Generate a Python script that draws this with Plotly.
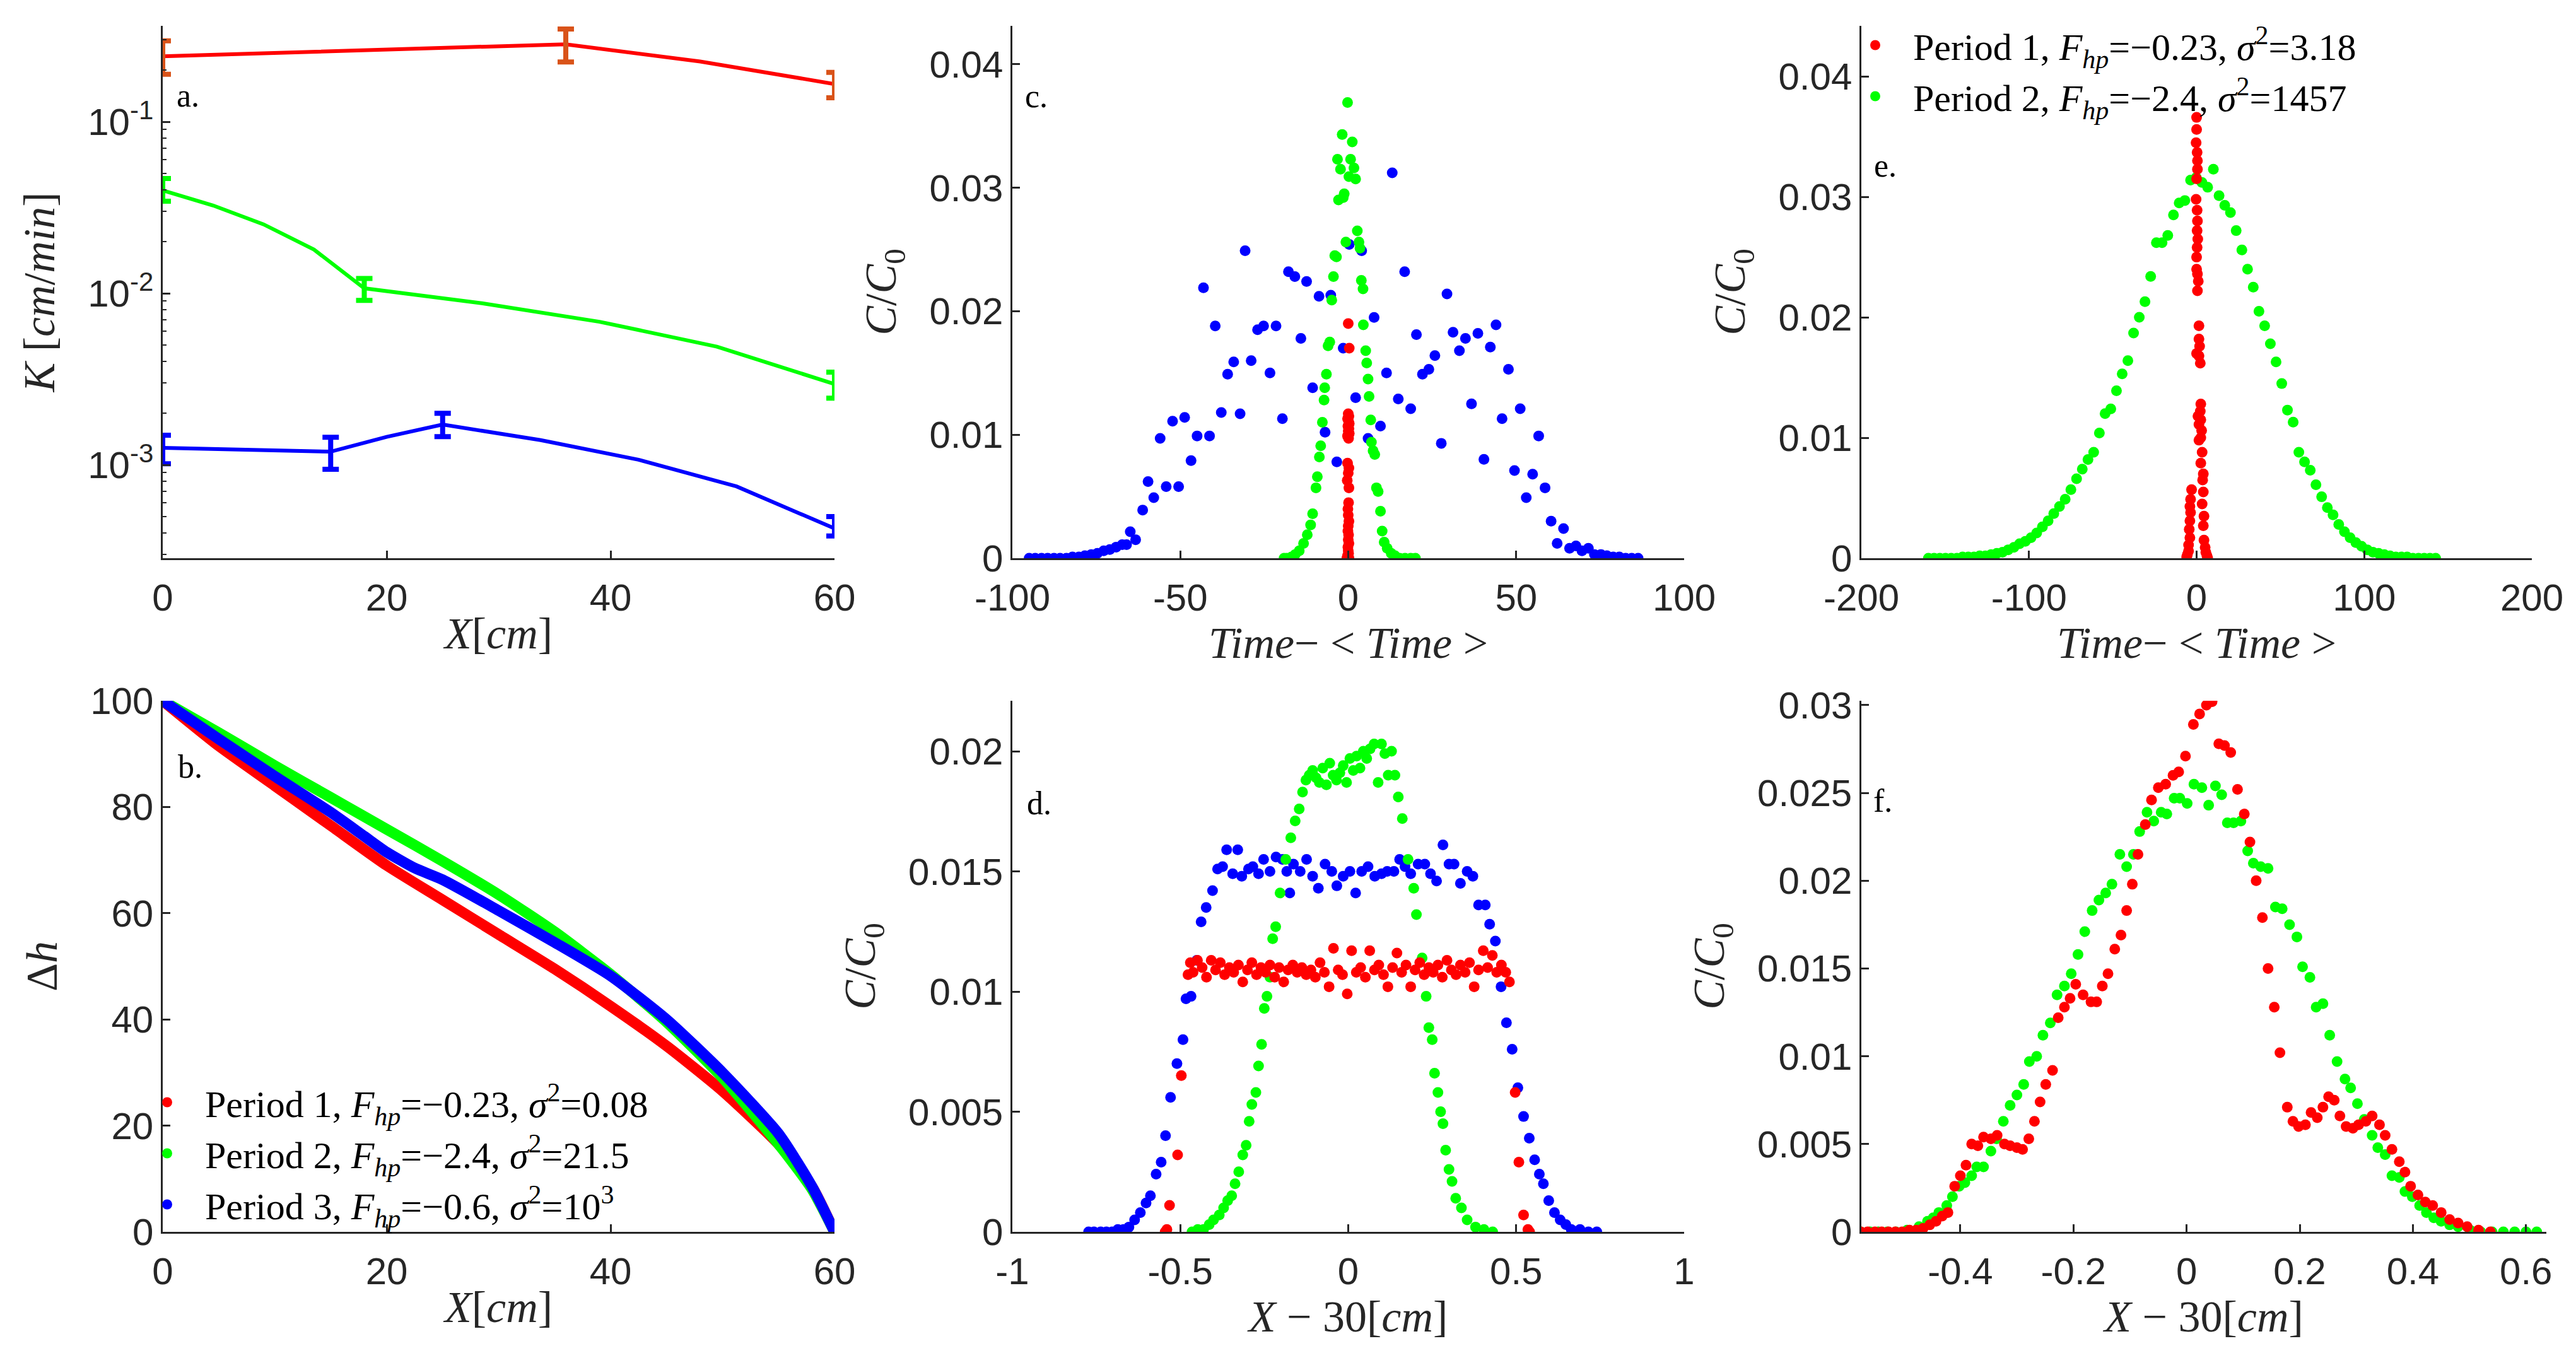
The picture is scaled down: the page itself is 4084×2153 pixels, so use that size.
"""Six-panel column experiment figure: K profiles, head profiles and tracer curves."""

import plotly.graph_objects as go

RED = "#ff0000"
GREEN = "#00ff00"
BLUE = "#0000ff"
ORANGE = "#d95319"
INK = "#262626"
SANS = "Liberation Sans"
SERIF = "Liberation Serif"

# ---------------- panel a: K along the column (log axis) ----------------
a_red_x = [0, 36, 60]
a_red_k = [0.241, 0.283, 0.166]
a_red_hi = [0.296, 0.347, 0.194]
a_red_lo = [0.189, 0.223, 0.138]
a_red_line_x = [0, 12, 24, 36, 48, 60]
a_red_line_k = [0.241, 0.255, 0.269, 0.283, 0.2245, 0.166]

a_green_x = [0, 18, 60]
a_green_k = [0.0398, 0.0107, 0.00296]
a_green_hi = [0.0467, 0.0122, 0.00347]
a_green_lo = [0.0344, 0.0091, 0.00245]
a_green_line_x = [0, 4.5, 9, 13.5, 18, 28.5, 39, 49.5, 60]
a_green_line_k = [0.0398, 0.0325, 0.02525, 0.0180, 0.0107, 0.00876, 0.00683, 0.00489, 0.00296]

a_blue_x = [0, 15, 25, 60]
a_blue_k = [0.001256, 0.001194, 0.001718, 0.000426]
a_blue_hi = [0.00149, 0.00145, 0.0020, 0.0005]
a_blue_lo = [0.001016, 0.000942, 0.00146, 0.000385]
a_blue_line_x = [0, 7.5, 15, 20, 25, 33.75, 42.5, 51.25, 60]
a_blue_line_k = [0.001256, 0.001225, 0.001194, 0.001456, 0.001718, 0.001395, 0.001072, 0.000749, 0.000426]

# ---------------- panel b: head drop along the column ----------------
b_red_x = [0, 5, 10, 15, 20, 25, 30, 35, 40, 45, 50, 55, 58, 60]
b_red_h = [100, 91.5, 84, 76.5, 69, 62.5, 56, 49.5, 42.5, 35, 26.5, 16.5, 8.5, 0]
b_green_x = [0, 5, 10, 15, 20, 25, 30, 35, 40, 45, 50, 55, 58, 60]
b_green_h = [100, 94, 87.8, 81.8, 75.8, 69.8, 63.5, 56.5, 48.5, 39.5, 29, 16.5, 8, 0]
b_blue_x = [0, 5, 10, 15, 18, 20, 22.5, 25, 30, 35, 40, 45, 50, 55, 58, 60]
b_blue_h = [100, 92.8, 85.8, 79, 74.5, 71.5, 68.5, 66.3, 60.5, 54.5, 48.2, 40, 30, 18.5, 8.5, 0]

# ---------------- panel c: breakthrough vs. centred time ----------------
c_red_t = [0.0, 0.3, 0.0, 0.2, -0.2, 0.1, 0.3, -0.1, 0.2, 0.0, 0.3, -0.2, 0.1, -0.2, 0.2, 0.0,
           -0.3, 0.2, 0.1, -0.1, 0.0, 0.2, 0.0, -0.1, 0.1, 0.0, 0.2, -0.1, 0.0, 0.1, -0.2, 0.0, 0.2, -0.4]
c_red_c = [0.0190, 0.0170, 0.0117, 0.0115, 0.0113, 0.0111, 0.0109, 0.0107, 0.0105, 0.0103, 0.0101,
           0.0099, 0.0097, 0.0077, 0.0073, 0.0069, 0.0063, 0.0057, 0.0045, 0.0040, 0.0035, 0.0030,
           0.0026, 0.0022, 0.0019, 0.0015, 0.0012, 0.0009, 0.0006, 0.0004, 0.0002, 0.0001, 0.0, 0.0]
c_green_t = [-19.1, -18.3, -16.9, -15.8, -14.6, -13.3, -12.2, -11.2, -10.6, -9.6, -9.2, -8.6, -8.2,
             -7.7, -7.2, -7.0, -6.5, -6.0, -5.5, -4.9, -4.4, -4.0, -3.5, -3.2, -2.9, -2.3, -1.8,
             -1.5, -1.2, -0.7, -0.2, 0.2, 0.7, 1.2, 1.7, 2.2, 2.7, 3.2, 3.5, 3.9, 4.4, 4.5, 5.2,
             5.5, 5.9, 6.2, 6.7, 6.9, 7.4, 7.9, 8.4, 8.9, 9.6, 10.1, 10.7, 11.6, 12.8, 13.9, 15.3,
             16.9, 18.6, 20.0]
c_green_c = [0.0, 0.0, 0.0001, 0.0003, 0.0006, 0.0012, 0.0019, 0.0027, 0.0036, 0.0057, 0.0066,
             0.0082, 0.0091, 0.0110, 0.0128, 0.0138, 0.0149, 0.0172, 0.0175, 0.0209, 0.0228, 0.0245,
             0.0244, 0.0323, 0.0290, 0.0315, 0.0343, 0.0292, 0.0295, 0.0256, 0.0369, 0.0309, 0.0323,
             0.0337, 0.0316, 0.0307, 0.0265, 0.0256, 0.0251, 0.0225, 0.0218, 0.0189, 0.0168, 0.0158,
             0.0145, 0.0131, 0.0112, 0.0094, 0.0087, 0.0084, 0.0057, 0.0054, 0.0038, 0.0022, 0.0013,
             0.0008, 0.0004, 0.0002, 0.0, 0.0, 0.0, 0.0]
c_blue_t = [-95.0, -93.2, -91.3, -89.5, -87.6, -85.8, -83.9, -82.1, -80.2, -78.4, -76.5, -74.7,
            -72.8, -71.0, -69.1, -67.3, -66.0, -64.9, -63.3, -61.2, -59.6, -57.9, -56.0, -54.2,
            -52.3, -50.5, -48.7, -46.8, -45.0, -43.1, -41.3, -39.6, -37.8, -35.9, -34.1, -32.2,
            -30.7, -28.9, -27.0, -25.2, -23.3, -21.5, -19.6, -17.8, -15.9, -14.1, -12.4, -10.6,
            -8.7, -6.9, -5.2, -3.4, -1.5, 0.3, 2.2, 4.0, 5.9, 7.7, 9.6, 11.4, 13.1, 14.9, 16.8,
            18.6, 20.3, 22.1, 24.0, 25.8, 27.7, 29.4, 31.2, 33.1, 34.9, 36.7, 38.6, 40.4, 42.3,
            44.0, 45.8, 47.7, 49.5, 51.2, 53.0, 54.9, 56.7, 58.6, 60.4, 62.2, 64.1, 65.9, 67.8,
            69.6, 71.5, 73.3, 75.2, 77.0, 78.9, 80.7, 82.6, 84.4, 86.3]
c_blue_c = [0.0, 0.0, 0.0, 0.0, 0.0, 0.0, 0.0, 0.0001, 0.0001, 0.0002, 0.0003, 0.0004, 0.0006,
            0.0007, 0.0009, 0.0011, 0.0011, 0.00215, 0.0015, 0.0039, 0.0062, 0.0049, 0.0097,
            0.0058, 0.0111, 0.0058, 0.0114, 0.0079, 0.0099, 0.0219, 0.0099, 0.0188, 0.0118,
            0.0149, 0.0159, 0.0117, 0.0249, 0.0160, 0.0185, 0.0188, 0.0150, 0.0188, 0.0113,
            0.0232, 0.0228, 0.0178, 0.0224, 0.0138, 0.0212, 0.0102, 0.0213, 0.0078, 0.0170,
            0.0254, 0.0130, 0.0249, 0.0097, 0.0195, 0.0107, 0.0150, 0.0312, 0.0129, 0.0232,
            0.0121, 0.0181, 0.0149, 0.0153, 0.0164, 0.0093, 0.0214, 0.0183, 0.0168, 0.0178,
            0.0125, 0.0182, 0.0080, 0.0171, 0.0189, 0.0113, 0.0153, 0.0071, 0.0121, 0.0049,
            0.0068, 0.0099, 0.0057, 0.0030, 0.0012, 0.0024, 0.0008, 0.0010, 0.0006, 0.0008,
            0.0003, 0.0003, 0.0002, 0.0001, 0.0001, 0.0, 0.0, 0.0]

# ---------------- panel d: concentration profile vs. position ----------------
d_red_x = [-0.545, -0.540, -0.532, -0.508, -0.497, -0.477, -0.470, -0.462, -0.449, -0.435, -0.422,
           -0.408, -0.395, -0.381, -0.368, -0.354, -0.341, -0.327, -0.314, -0.300, -0.287, -0.273,
           -0.260, -0.246, -0.233, -0.219, -0.206, -0.192, -0.179, -0.165, -0.152, -0.138, -0.125,
           -0.111, -0.098, -0.084, -0.071, -0.057, -0.044, -0.030, -0.017, -0.003, 0.010, 0.024,
           0.037, 0.051, 0.064, 0.078, 0.091, 0.105, 0.118, 0.132, 0.145, 0.159, 0.172, 0.186,
           0.199, 0.213, 0.226, 0.240, 0.253, 0.267, 0.280, 0.294, 0.307, 0.321, 0.334, 0.348,
           0.361, 0.375, 0.388, 0.402, 0.415, 0.429, 0.442, 0.456, 0.469, 0.480, 0.497, 0.508,
           0.522, 0.535, 0.540]
d_red_c = [0.0, 0.0001, 0.0011, 0.0032, 0.0065, 0.0107, 0.0112, 0.0108, 0.0113, 0.0110, 0.0106,
           0.0113, 0.0109, 0.0112, 0.0107, 0.0110, 0.0108, 0.0111, 0.0104, 0.0109, 0.0112, 0.0107,
           0.0110, 0.0108, 0.0111, 0.0106, 0.0110, 0.0104, 0.0109, 0.0111, 0.0108, 0.0110, 0.0107,
           0.0109, 0.0106, 0.0112, 0.0108, 0.0102, 0.0118, 0.0109, 0.0107, 0.0099, 0.0117, 0.0108,
           0.0110, 0.0106, 0.0117, 0.0109, 0.0111, 0.0107, 0.0102, 0.0110, 0.0116, 0.0108, 0.0111,
           0.0102, 0.0109, 0.0112, 0.0107, 0.0110, 0.0108, 0.0111, 0.0106, 0.0113, 0.0109, 0.0107,
           0.0111, 0.0108, 0.0112, 0.0102, 0.0109, 0.0117, 0.0110, 0.0115, 0.0108, 0.0111, 0.0108,
           0.0104, 0.0058, 0.0029, 0.0007, 0.0001, 0.0]
d_green_x = [-0.465, -0.448, -0.431, -0.414, -0.401, -0.384, -0.371, -0.359, -0.347, -0.337, -0.326,
             -0.314, -0.304, -0.295, -0.287, -0.275, -0.267, -0.258, -0.250, -0.242, -0.233, -0.225,
             -0.216, -0.203, -0.186, -0.171, -0.158, -0.146, -0.136, -0.126, -0.116, -0.106, -0.096,
             -0.086, -0.076, -0.065, -0.055, -0.045, -0.035, -0.025, -0.015, -0.005, 0.005, 0.015,
             0.025, 0.035, 0.045, 0.055, 0.065, 0.077, 0.089, 0.099, 0.109, 0.119, 0.129, 0.139,
             0.149, 0.161, 0.178, 0.195, 0.203, 0.220, 0.232, 0.240, 0.250, 0.257, 0.267, 0.275,
             0.282, 0.290, 0.300, 0.309, 0.320, 0.337, 0.354, 0.379, 0.404, 0.430]
d_green_c = [0.0, 0.0001, 0.0001, 0.0003, 0.0005, 0.0007, 0.0010, 0.0013, 0.0015, 0.0020, 0.0025,
             0.0032, 0.0036, 0.0046, 0.0053, 0.0058, 0.0069, 0.0078, 0.0093, 0.0098, 0.0106, 0.0122,
             0.0127, 0.0141, 0.0155, 0.0164, 0.0171, 0.0176, 0.0183, 0.0188, 0.0190, 0.0192, 0.0189,
             0.0187, 0.0193, 0.0186, 0.0195, 0.0190, 0.0188, 0.0191, 0.0194, 0.0187, 0.0197, 0.0192,
             0.0198, 0.0193, 0.0200, 0.0197, 0.0201, 0.0203, 0.0187, 0.0203, 0.0199, 0.0190, 0.0200,
             0.0190, 0.0181, 0.0172, 0.0155, 0.0143, 0.0132, 0.0114, 0.0098, 0.0085, 0.0080, 0.0066,
             0.0058, 0.0050, 0.0045, 0.0034, 0.0026, 0.0021, 0.0014, 0.0010, 0.0005, 0.0002, 0.0001,
             0.0]
d_blue_x = [-0.773, -0.757, -0.737, -0.720, -0.703, -0.686, -0.669, -0.653, -0.636, -0.619, -0.602,
            -0.589, -0.572, -0.557, -0.544, -0.529, -0.510, -0.492, -0.483, -0.468, -0.451, -0.438,
            -0.423, -0.404, -0.389, -0.374, -0.362, -0.344, -0.329, -0.317, -0.297, -0.284, -0.267,
            -0.252, -0.233, -0.215, -0.196, -0.183, -0.174, -0.163, -0.143, -0.124, -0.106, -0.089,
            -0.069, -0.049, -0.034, -0.015, 0.005, 0.022, 0.040, 0.059, 0.079, 0.099, 0.116, 0.136,
            0.153, 0.169, 0.186, 0.208, 0.228, 0.245, 0.263, 0.282, 0.300, 0.315, 0.334, 0.354,
            0.371, 0.388, 0.408, 0.421, 0.438, 0.455, 0.471, 0.488, 0.505, 0.522, 0.539, 0.555,
            0.569, 0.581, 0.597, 0.614, 0.631, 0.648, 0.664, 0.690, 0.715, 0.740]
d_blue_c = [0.0, 0.0, 0.0, 0.0, 0.0, 0.0001, 0.0001, 0.0002, 0.0005, 0.0008, 0.0012, 0.0015,
            0.0024, 0.0029, 0.0040, 0.0056, 0.0070, 0.0080, 0.0097, 0.0098, 0.0113, 0.0129, 0.0135,
            0.0142, 0.0151, 0.0152, 0.0159, 0.0149, 0.0159, 0.0148, 0.0151, 0.0152, 0.0149, 0.0155,
            0.0150, 0.0156, 0.0155, 0.0150, 0.0141, 0.0153, 0.0150, 0.0155, 0.0148, 0.0143, 0.0153,
            0.0150, 0.0144, 0.0148, 0.0150, 0.0141, 0.0150, 0.0152, 0.0148, 0.0149, 0.0150, 0.0150,
            0.0155, 0.0152, 0.0149, 0.0153, 0.0153, 0.0149, 0.0146, 0.0161, 0.0153, 0.0153, 0.0145,
            0.0150, 0.0148, 0.0136, 0.0136, 0.0128, 0.0121, 0.0102, 0.0087, 0.0076, 0.0060, 0.0048,
            0.0039, 0.0030, 0.0024, 0.0020, 0.0013, 0.0008, 0.0005, 0.0003, 0.0001, 0.0001, 0.0, 0.0]

# ---------------- panel e: breakthrough vs. centred time ----------------
e_red_t = [0.0, 0.0, -0.3, 0.3, 0.5, 0.5, 0.0, -0.3, 0.3, 0.5, 0.3, 0.7, 0.3, 0.0, 0.0, 0.5, 1.0,
           0.5, 1.4, 1.4, 1.8, 0.0, 1.4, 2.2, 2.5, 2.2, 0.8, 2.5, 1.4, 3.0, 2.5, 1.4, 3.3, 2.5, 4.0,
           3.6, -3.0, 4.0, -3.6, 3.3, -4.0, -3.6, 4.4, -4.0, 4.0, -4.4, -4.0, 4.4, -4.8, 5.1, -4.8,
           5.5, -5.5, 6.2, -5.9, 6.6]
e_red_c = [0.0366, 0.0356, 0.0345, 0.0337, 0.0330, 0.0323, 0.0315, 0.0298, 0.0289, 0.0280, 0.0272,
           0.0265, 0.0258, 0.0250, 0.0240, 0.0236, 0.0230, 0.0222, 0.0193, 0.0182, 0.0176, 0.0170,
           0.0168, 0.0162, 0.0128, 0.0122, 0.0118, 0.0115, 0.0111, 0.0106, 0.0100, 0.0098, 0.0088,
           0.0079, 0.0070, 0.0065, 0.0057, 0.0055, 0.0049, 0.0045, 0.0043, 0.0038, 0.0035, 0.0031,
           0.0027, 0.0024, 0.0017, 0.0015, 0.0011, 0.0009, 0.0006, 0.0005, 0.0003, 0.0002, 0.0001,
           0.0]
e_green_t = [-160.0, -156.6, -153.2, -149.8, -146.4, -143.0, -139.6, -136.2, -132.8, -129.4, -126.0,
             -122.6, -119.2, -115.8, -112.4, -109.0, -105.6, -102.2, -98.8, -95.4, -92.0, -88.6,
             -85.2, -81.8, -78.4, -75.0, -71.6, -68.2, -64.8, -61.4, -58.0, -54.6, -51.2, -47.8,
             -44.4, -41.0, -37.6, -34.2, -30.8, -27.4, -24.0, -20.6, -17.2, -13.8, -10.4, -7.0, -3.6,
             -0.2, 3.2, 6.6, 10.0, 13.4, 16.8, 20.2, 23.6, 27.0, 30.4, 33.8, 37.2, 40.6, 44.0, 47.4,
             50.8, 54.2, 57.6, 61.0, 64.4, 67.8, 71.2, 74.6, 78.0, 81.4, 84.8, 88.2, 91.6, 95.0,
             98.4, 101.8, 105.2, 108.6, 112.0, 115.4, 118.8, 122.2, 125.6, 129.0, 132.4, 135.8,
             139.2, 142.6]
e_green_c = [0.0, 0.0, 0.0, 0.0, 0.0, 0.0, 0.0001, 0.0001, 0.0001, 0.0002, 0.0002, 0.0003, 0.0004,
             0.0005, 0.0007, 0.0009, 0.0012, 0.0014, 0.0017, 0.0021, 0.0026, 0.0031, 0.0037, 0.0043,
             0.0049, 0.0057, 0.0066, 0.0074, 0.0082, 0.0088, 0.0104, 0.0120, 0.0124, 0.0139, 0.0153,
             0.0164, 0.0187, 0.0200, 0.0213, 0.0234, 0.0262, 0.0262, 0.0268, 0.0285, 0.0295, 0.0297,
             0.0314, 0.0316, 0.0312, 0.0308, 0.0323, 0.0301, 0.0293, 0.0287, 0.0272, 0.0256, 0.0240,
             0.0225, 0.0205, 0.0193, 0.0178, 0.0163, 0.0145, 0.0123, 0.0113, 0.0088, 0.0080, 0.0073,
             0.0061, 0.0051, 0.0042, 0.0036, 0.0028, 0.0022, 0.0017, 0.0013, 0.0010, 0.0007, 0.0005,
             0.0004, 0.0003, 0.0002, 0.0001, 0.0001, 0.0001, 0.0, 0.0, 0.0, 0.0, 0.0]

# ---------------- panel f: concentration profile vs. position ----------------
f_red_x = [-0.576, -0.564, -0.551, -0.539, -0.527, -0.515, -0.503, -0.490, -0.478, -0.466, -0.454,
           -0.443, -0.432, -0.422, -0.410, -0.400, -0.390, -0.380, -0.369, -0.359, -0.346, -0.335,
           -0.322, -0.312, -0.300, -0.290, -0.279, -0.269, -0.259, -0.249, -0.237, -0.227, -0.216,
           -0.206, -0.196, -0.183, -0.169, -0.159, -0.149, -0.139, -0.127, -0.116, -0.106, -0.096,
           -0.086, -0.073, -0.062, -0.050, -0.037, -0.024, -0.014, -0.002, 0.012, 0.023, 0.035,
           0.045, 0.057, 0.067, 0.078, 0.090, 0.102, 0.112, 0.123, 0.134, 0.144, 0.155, 0.165,
           0.178, 0.188, 0.198, 0.210, 0.220, 0.231, 0.241, 0.251, 0.261, 0.271, 0.282, 0.294,
           0.304, 0.317, 0.328, 0.341, 0.351, 0.363, 0.376, 0.386, 0.396, 0.409, 0.422, 0.435,
           0.450, 0.465, 0.480, 0.496, 0.516, 0.537]
f_red_c = [0.0, 0.0, 0.0, 0.0, 0.0, 0.0, 0.0, 0.0001, 0.0001, 0.0002, 0.0004, 0.0006, 0.0009,
           0.0011, 0.0026, 0.0032, 0.0038, 0.0050, 0.0049, 0.0054, 0.0053, 0.0055, 0.0050, 0.0049,
           0.0048, 0.0047, 0.0053, 0.0063, 0.0074, 0.0084, 0.0092, 0.0122, 0.0128, 0.0133, 0.0141,
           0.0135, 0.0131, 0.0131, 0.0140, 0.0147, 0.0161, 0.0169, 0.0183, 0.0198, 0.0215, 0.0232,
           0.0246, 0.0253, 0.0255, 0.0260, 0.0262, 0.0271, 0.0289, 0.0295, 0.0300, 0.0302, 0.0278,
           0.0277, 0.0273, 0.0252, 0.0238, 0.0222, 0.0200, 0.0179, 0.0150, 0.0128, 0.0102, 0.0071,
           0.0063, 0.0060, 0.0061, 0.0068, 0.0065, 0.0071, 0.0077, 0.0075, 0.0066, 0.0060, 0.0059,
           0.0061, 0.0063, 0.0066, 0.0061, 0.0055, 0.0047, 0.0040, 0.0034, 0.0026, 0.0021, 0.0017,
           0.0015, 0.0011, 0.0007, 0.0005, 0.0003, 0.0001, 0.0]
f_green_x = [-0.576, -0.560, -0.545, -0.529, -0.514, -0.494, -0.473, -0.458, -0.448, -0.438, -0.424,
             -0.414, -0.402, -0.392, -0.380, -0.371, -0.359, -0.346, -0.336, -0.324, -0.312, -0.300,
             -0.288, -0.278, -0.265, -0.254, -0.241, -0.229, -0.216, -0.204, -0.192, -0.180, -0.167,
             -0.155, -0.143, -0.132, -0.118, -0.106, -0.094, -0.083, -0.070, -0.058, -0.045, -0.035,
             -0.022, -0.012, 0.001, 0.013, 0.027, 0.039, 0.051, 0.062, 0.072, 0.083, 0.096, 0.108,
             0.118, 0.131, 0.144, 0.157, 0.169, 0.182, 0.195, 0.205, 0.218, 0.229, 0.241, 0.253,
             0.266, 0.280, 0.290, 0.302, 0.314, 0.328, 0.338, 0.351, 0.363, 0.376, 0.386, 0.399,
             0.412, 0.424, 0.437, 0.450, 0.465, 0.480, 0.501, 0.520, 0.540, 0.560, 0.580, 0.600,
             0.619]
f_green_c = [0.0, 0.0, 0.0, 0.0, 0.0, 0.0001, 0.0003, 0.0006, 0.0008, 0.0011, 0.0015, 0.0020,
             0.0026, 0.0028, 0.0032, 0.0037, 0.0037, 0.0046, 0.0053, 0.0063, 0.0072, 0.0078, 0.0084,
             0.0097, 0.0100, 0.0112, 0.0119, 0.0135, 0.0140, 0.0147, 0.0158, 0.0171, 0.0183, 0.0189,
             0.0193, 0.0198, 0.0215, 0.0208, 0.0215, 0.0228, 0.0239, 0.0234, 0.0239, 0.0238, 0.0247,
             0.0247, 0.0244, 0.0255, 0.0253, 0.0243, 0.0254, 0.0249, 0.0233, 0.0233, 0.0234, 0.0217,
             0.0210, 0.0208, 0.0207, 0.0185, 0.0184, 0.0175, 0.0168, 0.0151, 0.0145, 0.0128, 0.0130,
             0.0112, 0.0097, 0.0087, 0.0082, 0.0073, 0.0064, 0.0055, 0.0048, 0.0044, 0.0032, 0.0031,
             0.0023, 0.0020, 0.0015, 0.0011, 0.0008, 0.0006, 0.0004, 0.0003, 0.0001, 0.0, 0.0, 0.0,
             0.0, 0.0, 0.0]

# legend texts
b_labels = [
    "Period 1, <i>F<sub>hp</sub></i>=\u22120.23, <i>\u03c3</i><sup>2</sup>=0.08",
    "Period 2, <i>F<sub>hp</sub></i>=\u22122.4, <i>\u03c3</i><sup>2</sup>=21.5",
    "Period 3, <i>F<sub>hp</sub></i>=\u22120.6, <i>\u03c3</i><sup>2</sup>=10<sup>3</sup>",
]
e_labels = [
    "Period 1, <i>F<sub>hp</sub></i>=\u22120.23, <i>\u03c3</i><sup>2</sup>=3.18",
    "Period 2, <i>F<sub>hp</sub></i>=\u22122.4, <i>\u03c3</i><sup>2</sup>=1457",
]

# ticks
a_xticks = [0, 20, 40, 60]
a_yticks = [0.001, 0.01, 0.1]
a_yticktext = ["10<sup>-3</sup>", "10<sup>-2</sup>", "10<sup>-1</sup>"]
a_yminor = [m * 10.0 ** e for e in (-4, -3, -2, -1) for m in range(2, 10)]
b_yticks = [0, 20, 40, 60, 80, 100]
c_xticks = [-100, -50, 0, 50, 100]
c_yticks = [0, 0.01, 0.02, 0.03, 0.04]
d_xticks = [-1, -0.5, 0, 0.5, 1]
d_yticks = [0, 0.005, 0.01, 0.015, 0.02]
e_xticks = [-200, -100, 0, 100, 200]
f_xticks = [-0.4, -0.2, 0, 0.2, 0.4, 0.6]
f_yticks = [0, 0.005, 0.01, 0.015, 0.02, 0.025, 0.03]

W, H = 4084, 2153
TICK_SIZE = 60
TITLE_SIZE = 70
LEGEND_SIZE = 60
DOT = 17


def axis(domain, anchor, rng, tickvals, title, standoff, ticktext=None, **extra):
    d = dict(
        domain=domain, anchor=anchor, range=rng,
        tickmode="array", tickvals=tickvals,
        ticktext=ticktext if ticktext is not None else ["%g" % v for v in tickvals],
        ticks="inside", ticklen=12, tickwidth=2.5, tickcolor=INK,
        showline=True, linecolor=INK, linewidth=2.5,
        showgrid=False, zeroline=False, automargin=False,
        tickfont=dict(family=SANS, size=TICK_SIZE, color=INK),
        title=dict(text=title, font=dict(family=SERIF, size=TITLE_SIZE, color=INK), standoff=standoff),
    )
    d.update(extra)
    return d


def xaxis(domain, anchor, rng, tickvals, title):
    return axis(domain, anchor, rng, tickvals, title, 0, ticklabelstandoff=8)


def px(xp):
    return xp / W


def py(yp):
    return 1 - yp / H


def dots(x, y, color, xa, ya, **kw):
    return go.Scatter(x=x, y=y, mode="markers", xaxis=xa, yaxis=ya,
                      marker=dict(color=color, size=DOT, line=dict(width=0)), **kw)


def k_series(fig, x, k, hi, lo, lx, lk, color, bar_color):
    fig.add_trace(go.Scatter(x=lx, y=lk, mode="lines", line=dict(color=color, width=6),
                             xaxis="x", yaxis="y", showlegend=False))
    fig.add_trace(go.Scatter(
        x=x, y=k, mode="markers", xaxis="x", yaxis="y", showlegend=False,
        marker=dict(color=bar_color, size=1),
        error_y=dict(type="data", symmetric=False,
                     array=[h - v for h, v in zip(hi, k)],
                     arrayminus=[v - l for l, v in zip(lo, k)],
                     color=bar_color, thickness=8, width=13),
    ))


def legend_box(x, y):
    return dict(x=x, y=y, xanchor="left", yanchor="top", bgcolor="rgba(0,0,0,0)",
                font=dict(family=SERIF, size=LEGEND_SIZE, color="black"),
                itemwidth=110, tracegroupgap=0)


def build_figure():
    fig = go.Figure()

    # a
    k_series(fig, a_red_x, a_red_k, a_red_hi, a_red_lo, a_red_line_x, a_red_line_k, RED, ORANGE)
    k_series(fig, a_green_x, a_green_k, a_green_hi, a_green_lo, a_green_line_x, a_green_line_k, GREEN, GREEN)
    k_series(fig, a_blue_x, a_blue_k, a_blue_hi, a_blue_lo, a_blue_line_x, a_blue_line_k, BLUE, BLUE)

    # c
    fig.add_trace(dots(c_blue_t, c_blue_c, BLUE, "x2", "y2", showlegend=False))
    fig.add_trace(dots(c_green_t, c_green_c, GREEN, "x2", "y2", showlegend=False))
    fig.add_trace(dots(c_red_t, c_red_c, RED, "x2", "y2", showlegend=False))

    # e
    fig.add_trace(dots(e_green_t, e_green_c, GREEN, "x3", "y3", name=e_labels[1], legend="legend2",
                       legendrank=2))
    fig.add_trace(dots(e_red_t, e_red_c, RED, "x3", "y3", name=e_labels[0], legend="legend2",
                       legendrank=1))

    # b
    for x, h, color in ((b_red_x, b_red_h, RED), (b_green_x, b_green_h, GREEN),
                        (b_blue_x, b_blue_h, BLUE)):
        fig.add_trace(go.Scatter(x=x, y=h, mode="lines", xaxis="x4", yaxis="y4",
                                 line=dict(color=color, width=17, shape="spline", smoothing=0.6),
                                 showlegend=False))
    for color, name in ((RED, b_labels[0]), (GREEN, b_labels[1]), (BLUE, b_labels[2])):
        fig.add_trace(go.Scatter(x=[None], y=[None], mode="markers", xaxis="x4", yaxis="y4",
                                 marker=dict(color=color, size=DOT), name=name, legend="legend"))

    # d
    fig.add_trace(dots(d_blue_x, d_blue_c, BLUE, "x5", "y5", showlegend=False))
    fig.add_trace(dots(d_green_x, d_green_c, GREEN, "x5", "y5", showlegend=False))
    fig.add_trace(dots(d_red_x, d_red_c, RED, "x5", "y5", showlegend=False))

    # f
    fig.add_trace(dots(f_green_x, f_green_c, GREEN, "x6", "y6", showlegend=False))
    fig.add_trace(dots(f_red_x, f_red_c, RED, "x6", "y6", showlegend=False))

    top_row = [py(877), py(33)]
    bottom_row = [py(1945), py(1103)]
    col1 = [px(250), px(1315)]
    col2 = [px(1597), px(2662)]
    col3 = [px(2943), px(4006)]
    col3f = [px(2943), px(4029)]

    xlab_cm = "<i>X</i>[<i>cm</i>]"
    xlab_time = "<i>Time</i>\u2212 &lt; <i>Time</i> &gt;"
    xlab_pos = "<i>X</i> \u2212 30[<i>cm</i>]"
    ylab_c = "<i>C</i>/<i>C</i><sub>0</sub>"

    fig.update_layout(
        width=W, height=H,
        margin=dict(l=0, r=0, t=0, b=0),
        paper_bgcolor="white", plot_bgcolor="white",
        xaxis=xaxis(col1, "y", [0, 60], a_xticks, xlab_cm),
        yaxis=axis(top_row, "x", [-3.544, -0.441], a_yticks, "<i>K</i> [<i>cm</i>/<i>min</i>]", 30,
                   ticktext=a_yticktext, type="log",
                   minor=dict(tickmode="array", tickvals=a_yminor, ticks="inside", ticklen=6,
                              tickwidth=2, tickcolor=INK, showgrid=False)),
        xaxis2=xaxis(col2, "y2", [-100, 100], c_xticks, xlab_time),
        yaxis2=axis(top_row, "x2", [0, 0.0431], c_yticks, ylab_c, 30),
        xaxis3=xaxis(col3, "y3", [-200, 200], e_xticks, xlab_time),
        yaxis3=axis(top_row, "x3", [0, 0.0442], c_yticks, ylab_c, 30),
        xaxis4=xaxis(col1, "y4", [0, 60], a_xticks, xlab_cm),
        yaxis4=axis(bottom_row, "x4", [0, 100], b_yticks, "\u0394<i>h</i>", 30),
        xaxis5=xaxis(col2, "y5", [-1, 1], d_xticks, xlab_pos),
        yaxis5=axis(bottom_row, "x5", [0, 0.0221], d_yticks, ylab_c, 30),
        xaxis6=xaxis(col3f, "y6", [-0.575, 0.636], f_xticks, xlab_pos),
        yaxis6=axis(bottom_row, "x6", [0, 0.03025], f_yticks, ylab_c, 30),
        legend=legend_box(px(197), py(1694)),
        legend2=legend_box(px(2905), py(18)),
        showlegend=True,
    )

    # panel letters
    for text, xp, yp in (("a.", 290, 143), ("b.", 293, 1207), ("c.", 1635, 145),
                         ("d.", 1639, 1265), ("e.", 2981, 255), ("f.", 2977, 1261)):
        fig.add_annotation(text=text, x=px(xp), y=py(yp), xref="paper", yref="paper",
                           showarrow=False, xanchor="center", yanchor="middle",
                           font=dict(family=SERIF, size=52, color="black"))
    return fig


if __name__ == "__main__":
    figure = build_figure()
    figure.write_html("out.html")
